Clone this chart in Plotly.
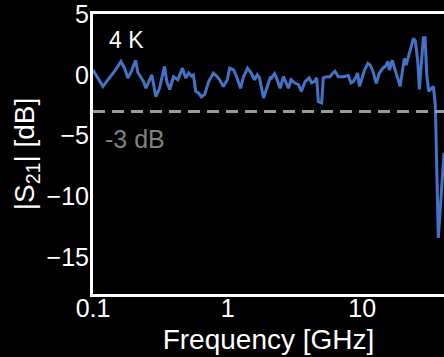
import plotly.graph_objects as go

# Frequency in GHz and |S21| in dB
freq_ghz = [0.100, 0.1186, 0.1291, 0.1359, 0.1448, 0.1612, 0.1717, 0.1816, 0.1912, 0.2072,
            0.2154, 0.2268, 0.2375, 0.2470, 0.2630, 0.2735, 0.2929, 0.3119, 0.3397, 0.3533,
            0.3718, 0.3960, 0.4262, 0.4618, 0.4886, 0.5142, 0.5384, 0.5571, 0.5794, 0.6098,
            0.6385, 0.6754, 0.7234, 0.7837, 0.8290, 0.8724, 0.9292, 0.995, 1.035, 1.108,
            1.166, 1.248, 1.314, 1.406, 1.498, 1.585, 1.660, 1.726, 1.848, 1.979,
            2.083, 2.118, 2.229, 2.307, 2.457, 2.598, 2.689, 2.830, 2.964, 3.135,
            3.357, 3.533, 3.764, 4.030, 4.211, 4.409, 4.587, 4.722, 4.995, 5.142,
            5.438, 5.765, 5.995, 6.278, 6.640, 7.234, 7.878, 8.250, 8.577, 8.920,
            9.232, 9.550, 10.40, 11.02, 11.46, 12.00, 12.70, 13.43, 14.23, 14.88,
            15.50, 15.93, 16.68, 17.35, 18.07, 19.12, 20.02, 20.58, 21.18, 22.41,
            23.99, 24.82, 25.86, 26.57, 27.82, 28.45, 29.29, 30.15, 31.20, 32.44,
            33.74, 34.91, 36.75, 40.50]
s21_db = [0.4, -0.96, -0.4, -0.1, 0.3, 1.1, 0.55, -0.25, 0.2, 1.2,
          0.2, -0.2, -0.55, -1.1, -0.4, 0.0, -1.8, -1.1, 0.7, -0.55,
          -1.2, -0.15, -0.4, 0.55, -0.25, 0.15, -0.1, 0.0, -1.35, -1.5,
          -1.8, -1.6, -0.55, 0.15, -0.1, -0.4, -0.95, -0.4, 0.55, 0.4,
          -0.15, -1.1, -0.15, 0.55, 0.15, -0.4, 0.0, -0.25, -1.9, -0.8,
          -0.15, -0.25, 0.1, -0.25, -1.1, -0.15, -0.55, -1.1, -0.4, -0.65,
          -0.8, -1.35, -0.55, -0.25, -0.65, -0.55, -0.25, -2.2, -2.3, -0.25,
          -0.15, -0.15, 0.1, 0.3, -0.15, -0.15, -0.05, -0.65, -0.55, -0.25,
          0.15, -0.95, 0.4, 0.95, 0.8, 0.3, -0.7, 0.15, 0.55, 0.7,
          1.1, 0.4, 1.2, 0.55, -0.15, -0.95, 0.55, 1.35, 0.8, 1.9,
          3.0, 2.75, 1.1, -1.2, 1.9, 3.05, 3.05, 0.0, -1.35, -1.1,
          -0.95, -2.45, -13.4, -6.4]

x_tickvals = [0.1, 1, 10]
x_ticktext = ["0.1", "1", "10"]
y_tickvals = [-15, -10, -5, 0, 5]
threshold_db = -3

FONT = "Liberation Sans, Arial, Helvetica, sans-serif"

fig = go.Figure()
fig.add_trace(go.Scatter(x=freq_ghz, y=s21_db, mode="lines",
                         line=dict(color="#4472C4", width=3), showlegend=False))

fig.add_shape(type="line", xref="paper", x0=0, x1=1, yref="y", y0=threshold_db, y1=threshold_db,
              line=dict(color="#9a9a9a", width=3, dash="12px,7px"))

fig.add_annotation(text="4 K", xref="paper", yref="paper", x=0.04, y=0.906,
                   xanchor="left", yanchor="middle", showarrow=False,
                   font=dict(family=FONT, size=23, color="white"))
fig.add_annotation(text="-3 dB", xref="paper", yref="paper", x=0.028, y=0.553,
                   xanchor="left", yanchor="middle", showarrow=False,
                   font=dict(family=FONT, size=25, color="#808080"))

fig.update_layout(
    width=444, height=357,
    margin=dict(l=93, r=0, t=14, b=63),
    paper_bgcolor="black", plot_bgcolor="black",
    font=dict(family=FONT, size=23, color="white"),
    xaxis=dict(type="log", range=[-1, 1.6074], tickvals=x_tickvals, ticktext=x_ticktext,
               showgrid=False, zeroline=False, showline=True, linecolor="white", linewidth=3,
               mirror=True, ticks="", ticklabelstandoff=-10, ticklabeloverflow="allow",
               title=dict(text="Frequency [GHz]", standoff=9),
               tickfont=dict(family=FONT, size=25, color="white")),
    yaxis=dict(range=[-18, 5], tickvals=y_tickvals, showgrid=False, zeroline=False,
               showline=True, linecolor="white", linewidth=3, ticks="", ticklabelstandoff=-4,
               ticklabeloverflow="allow",
               title=dict(text="|S<sub>21</sub>| [dB]", standoff=4),
               tickfont=dict(family=FONT, size=25, color="white")),
)

fig.write_html("out.html", config={"displayModeBar": False},
               post_script="document.body.style.margin='0';document.body.style.overflow='hidden';"
                           "document.body.style.background='black';")
